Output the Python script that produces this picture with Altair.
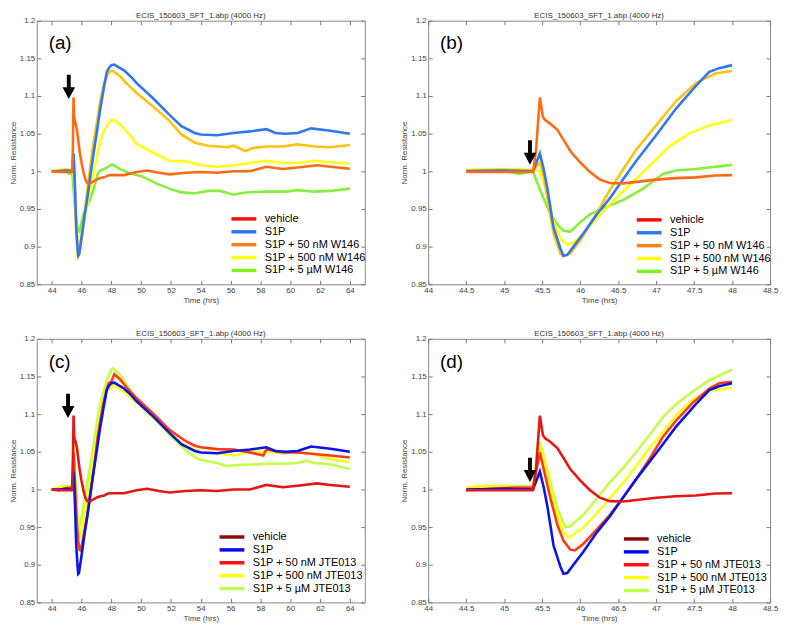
import altair as alt
import pandas as pd

FONT = "Liberation Sans"
TITLE = "ECIS_150603_SFT_1.abp (4000 Hz)"

# ---------------- data ----------------
# S1P alone (shared by all panels)
s1p_t = [44.0, 44.5, 45.0, 45.38, 45.47, 45.52, 45.57, 45.65, 45.74, 45.78, 45.83, 45.91, 46.04,
         46.22, 46.39, 46.57, 46.74, 47.0, 47.26, 47.52, 47.7, 47.83, 48.0, 48.2, 48.85, 49.3,
         49.7, 50.8, 51.9, 52.7, 53.6, 54.0, 55.1, 56.2, 57.3, 58.4, 59.0, 59.7, 60.5, 61.4,
         62.7, 64.0]
s1p_v = [1.0, 1.0, 1.001, 1.0, 1.0237, 1.003, 0.977, 0.9255, 0.8975, 0.888, 0.889, 0.8997, 0.917,
         0.943, 0.964, 0.99, 1.014, 1.048, 1.083, 1.113, 1.132, 1.137, 1.141, 1.1417, 1.134, 1.126,
         1.117, 1.097, 1.075, 1.06, 1.051, 1.049, 1.048, 1.051, 1.053, 1.056, 1.051, 1.05, 1.051,
         1.057, 1.054, 1.05]

# spike / return-to-baseline trace (shared)
spk_t = [44.0, 44.5, 45.0, 45.38, 45.42, 45.47, 45.51, 45.54, 45.61, 45.7, 45.78, 45.87, 46.0,
         46.13, 46.26, 46.39, 46.57, 46.74, 47.0, 47.26, 47.52, 47.78, 48.0, 48.85, 49.7, 50.4,
         51.2, 51.9, 53.0, 54.0, 55.1, 56.2, 57.3, 58.4, 59.5, 60.5, 61.8, 62.7, 64.0]
spk_v = [1.0, 0.999, 0.999, 0.999, 1.029, 1.098, 1.072, 1.068, 1.063, 1.055, 1.042, 1.027, 1.012,
         0.999, 0.989, 0.9845, 0.984, 0.986, 0.989, 0.991, 0.992, 0.9945, 0.995, 0.995, 0.999, 1.001,
         0.998, 0.996, 0.998, 0.999, 0.998, 1.0, 1.0, 1.006, 1.003, 1.005, 1.008, 1.006, 1.0035]

# W146 series
w50_t = [44.0, 44.5, 45.0, 45.38, 45.47, 45.52, 45.57, 45.65, 45.74, 45.78, 45.87, 46.0, 46.17,
         46.39, 46.57, 46.74, 47.0, 47.26, 47.52, 47.78, 48.0, 48.2, 48.6, 49.0, 49.7, 50.8, 51.9,
         52.7, 53.6, 54.5, 55.8, 56.2, 57.0, 57.5, 58.4, 59.5, 60.5, 61.6, 62.7, 64.0]
w50_v = [1.0, 1.001, 1.002, 1.001, 1.0116, 0.994, 0.964, 0.917, 0.891, 0.887, 0.891, 0.908, 0.936,
         0.975, 1.003, 1.029, 1.061, 1.093, 1.117, 1.13, 1.1335, 1.132, 1.126, 1.117, 1.104, 1.086,
         1.067, 1.049, 1.038, 1.034, 1.032, 1.034, 1.027, 1.031, 1.033, 1.033, 1.036, 1.033, 1.032,
         1.035]

w500_t = [44.0, 44.5, 45.0, 45.38, 45.47, 45.57, 45.65, 45.74, 45.83, 45.91, 46.04, 46.22, 46.43,
          46.65, 46.91, 47.17, 47.43, 47.7, 48.0, 48.2, 48.6, 49.3, 49.7, 50.8, 51.9, 52.96, 54.0,
          55.1, 56.2, 57.3, 58.4, 59.5, 60.5, 61.6, 62.7, 64.0]
w500_v = [1.0, 1.002, 1.003, 1.002, 1.0, 0.9686, 0.934, 0.9105, 0.903, 0.905, 0.917, 0.938, 0.96,
          0.9815, 1.007, 1.033, 1.05, 1.061, 1.068, 1.068, 1.062, 1.047, 1.036, 1.025, 1.014, 1.0135,
          1.008, 1.006, 1.008, 1.011, 1.014, 1.011, 1.011, 1.014, 1.012, 1.01]

w5_t = [44.0, 44.5, 45.0, 45.2, 45.38, 45.43, 45.52, 45.61, 45.7, 45.78, 45.87, 46.0, 46.13, 46.3,
        46.57, 46.83, 47.09, 47.26, 47.52, 48.0, 48.1, 48.6, 49.3, 50.1, 51.0, 51.9, 52.7, 53.6,
        54.5, 55.3, 56.2, 57.0, 58.4, 59.7, 60.5, 61.6, 62.7, 64.0]
w5_v = [1.0, 1.0, 1.001, 0.9966, 1.0, 0.986, 0.964, 0.943, 0.93, 0.921, 0.92, 0.932, 0.943, 0.951,
        0.962, 0.977, 0.9966, 1.001, 1.003, 1.0086, 1.009, 1.003, 0.997, 0.993, 0.984, 0.977, 0.972,
        0.971, 0.974, 0.974, 0.969, 0.972, 0.973, 0.973, 0.975, 0.973, 0.974, 0.977]

# JTE013 series
j50_t = [44.0, 44.5, 45.0, 45.38, 45.47, 45.52, 45.61, 45.7, 45.78, 45.87, 45.93, 46.04, 46.22,
         46.39, 46.57, 46.74, 46.91, 47.09, 47.26, 47.48, 47.7, 47.83, 48.0, 48.2, 48.6, 49.0, 49.7,
         50.8, 51.9, 53.0, 53.6, 54.0, 55.1, 56.2, 57.3, 58.2, 58.4, 59.5, 60.5, 61.6, 62.7, 64.0]
j50_v = [1.0, 0.999, 1.002, 1.003, 1.049, 1.027, 0.988, 0.953, 0.932, 0.92, 0.919, 0.9276, 0.947,
         0.966, 0.99, 1.014, 1.04, 1.07, 1.091, 1.115, 1.134, 1.141, 1.143, 1.153, 1.146, 1.136,
         1.121, 1.101, 1.079, 1.064, 1.058, 1.056, 1.0535, 1.053, 1.049, 1.045, 1.0535, 1.049,
         1.049, 1.047, 1.045, 1.0425]

j500_t = [44.0, 44.5, 44.7, 45.0, 45.38, 45.47, 45.52, 45.61, 45.7, 45.78, 45.85, 46.04, 46.22,
          46.39, 46.57, 46.74, 46.91, 47.09, 47.26, 47.48, 47.7, 48.0, 48.2, 48.6, 49.7, 50.8, 51.9,
          53.0, 54.0, 55.1, 56.2, 57.3, 58.4, 59.5, 60.5, 61.6, 62.7, 64.0]
j500_v = [1.0, 1.002, 1.004, 1.004, 1.003, 1.059, 1.04, 1.001, 0.966, 0.943, 0.936, 0.949, 0.9685,
          0.988, 1.0095, 1.031, 1.055, 1.076, 1.098, 1.119, 1.131, 1.135, 1.138, 1.134, 1.115,
          1.095, 1.074, 1.058, 1.05, 1.048, 1.045, 1.05, 1.05, 1.048, 1.05, 1.047, 1.04, 1.036]

j5_t = [44.0, 44.5, 44.7, 45.0, 45.38, 45.47, 45.52, 45.61, 45.7, 45.8, 45.87, 46.04, 46.22, 46.39,
        46.57, 46.74, 46.91, 47.09, 47.26, 47.48, 47.7, 48.0, 48.1, 48.6, 49.7, 50.8, 51.9, 53.0,
        53.6, 54.0, 55.1, 55.7, 56.2, 57.3, 58.4, 59.5, 60.5, 61.1, 61.6, 62.7, 64.0]
j5_v = [1.0, 1.002, 1.005, 1.005, 1.004, 1.063, 1.044, 1.0095, 0.975, 0.95, 0.951, 0.966, 0.988,
        1.0095, 1.029, 1.05, 1.072, 1.096, 1.113, 1.13, 1.145, 1.159, 1.1606, 1.152, 1.118, 1.097,
        1.072, 1.052, 1.043, 1.039, 1.035, 1.031, 1.032, 1.033, 1.034, 1.034, 1.035, 1.038, 1.035,
        1.033, 1.027]

# legends
w_labels = ["vehicle", "S1P", "S1P + 50 nM  W146", "S1P + 500 nM W146", "S1P + 5 µM W146"]
w_legend_colors = ["#FF0A0A", "#2F78F0", "#FF7F1A", "#FFFF10", "#80F020"]
j_labels = ["vehicle", "S1P", "S1P + 50 nM JTE013", "S1P + 500 nM JTE013", "S1P + 5 µM  JTE013"]
j_legend_colors = ["#8B0A0A", "#0A0AF0", "#FF1010", "#FFFF10", "#C0FF48"]

# plotted traces in drawing order: (times, values, colour)
w_traces = [(w5_t, w5_v, "#86EE3C"), (w500_t, w500_v, "#FFFF14"), (w50_t, w50_v, "#FFC20E"),
            (s1p_t, s1p_v, "#2F78F0"), (spk_t, spk_v, "#FF6A12")]
j_traces = [(j5_t, j5_v, "#C4FF44"), (j500_t, j500_v, "#FFFF14"), (j50_t, j50_v, "#FF3A14"),
            (s1p_t, s1p_v, "#0A14E6"), (spk_t, spk_v, "#E41616")]

y_ticks = [0.85, 0.9, 0.95, 1.0, 1.05, 1.1, 1.15, 1.2]
x_ticks_long = [44, 46, 48, 50, 52, 54, 56, 58, 60, 62, 64]
x_ticks_short = [44, 44.5, 45, 45.5, 46, 46.5, 47, 47.5, 48, 48.5]

# arrows: x, y of centre
arrow_x = {"a": 45.15, "b": 45.34, "c": 45.1, "d": 45.34}
arrow_y = {"a": 1.112, "b": 1.025, "c": 1.111, "d": 1.026}

ARROW = "M-0.16,-1L0.16,-1L0.16,0.02L0.52,0.02L0,1L-0.52,0.02L-0.16,0.02Z"
LEGEND_STROKE = "M-2.95,0L2.95,0"

AX = dict(labelFont=FONT, labelFontSize=8, labelColor="#444", titleFont=FONT, titleFontSize=8,
          titleFontWeight="normal", titleColor="#444", tickColor="#777", tickSize=4, domain=False,
          grid=False, offset=-4, labelPadding=2, labelFlush=False, labelOverlap=False)

H = 266


def panel(key, traces, labels, lcolors, xdom, xticks, trange, width, legx, legy):
    xs = alt.Scale(domain=xdom, nice=False, zero=False)
    ys = alt.Scale(domain=[0.85, 1.2], nice=False, zero=False)
    layers = []
    for i, (t, v, col) in enumerate(traces):
        df = pd.DataFrame({"t": t, "v": v})
        df = df[(df.t >= trange[0]) & (df.t <= trange[1])]
        if i == 0:
            xe = alt.X("t:Q", scale=xs, axis=alt.Axis(values=xticks, format="~g", title="Time (hrs)",
                                                      titlePadding=2, **AX))
            ye = alt.Y("v:Q", scale=ys, axis=alt.Axis(values=y_ticks, format="~g",
                                                      title="Norm. Resistance", titlePadding=2, **AX))
        else:
            xe = alt.X("t:Q", scale=xs, axis=None)
            ye = alt.Y("v:Q", scale=ys, axis=None)
        layers.append(alt.Chart(df).mark_line(color=col, strokeWidth=2.6).encode(x=xe, y=ye))

    arr = alt.Chart(pd.DataFrame({"ax": [arrow_x[key]], "ay": [arrow_y[key]]})).mark_point(
        shape=ARROW, filled=True, color="black", size=600, opacity=1, strokeWidth=0
    ).encode(
        x=alt.X("ax:Q", scale=xs, axis=alt.Axis(orient="top", values=xticks, labels=False, title=None,
                                                tickColor="#777", tickSize=4, domain=False, grid=False,
                                                offset=-4)),
        y=alt.Y("ay:Q", scale=ys, axis=alt.Axis(orient="right", values=y_ticks, labels=False, title=None,
                                                tickColor="#777", tickSize=4, domain=False, grid=False,
                                                offset=-4)),
    )
    lab = alt.Chart(pd.DataFrame({"lab": ["(" + key + ")"]})).mark_text(
        align="left", baseline="alphabetic", fontSize=19, font=FONT, color="black"
    ).encode(x=alt.value(12), y=alt.value(29), text="lab:N")

    ttl = alt.Chart(pd.DataFrame({"tt": [TITLE]})).mark_text(
        align="center", baseline="alphabetic", fontSize=8, font=FONT, color="#333"
    ).encode(x=alt.value(width / 2), y=alt.value(-3), text="tt:N")

    leg = alt.Chart(pd.DataFrame({"lg": labels})).mark_line(strokeWidth=3.5).encode(
        x=alt.value(1), y=alt.value(1),
        color=alt.Color("lg:N", scale=alt.Scale(domain=labels, range=lcolors), sort=labels,
                        legend=alt.Legend(orient="none", legendX=legx + 10, legendY=legy, title=None,
                                          labelFont=FONT, labelFontSize=11, labelColor="black",
                                          symbolType=LEGEND_STROKE, symbolSize=72,
                                          symbolStrokeWidth=3.5, rowPadding=-1.5, labelOffset=15,
                                          padding=0, labelLimit=300)),
    )
    return alt.layer(*layers, arr, lab, ttl, leg).resolve_scale(color="independent").resolve_axis(
        x="independent", y="independent"
    ).properties(width=width, height=H)


WA = 331
WB = 345
pa = panel("a", w_traces, w_labels, w_legend_colors, [43, 65], x_ticks_long, [44, 64], WA, WA - 138, 194)
pb = panel("b", w_traces, w_labels, w_legend_colors, [44, 48.5], x_ticks_short, [44.5, 48], WB, WB - 138, 195)
pc = panel("c", j_traces, j_labels, j_legend_colors, [43, 65], x_ticks_long, [44, 64], WA, WA - 150, 194)
pd_ = panel("d", j_traces, j_labels, j_legend_colors, [44, 48.5], x_ticks_short, [44.5, 48], WB, WB - 151, 196)

chart = alt.concat(pa, pb, pc, pd_, columns=2, spacing={"row": 55, "column": 64},
                   bounds="flush", align="each").properties(padding=0).configure_view(
    stroke="#888", strokeWidth=1
)

chart.save("out.html", embed_options={"renderer": "svg", "actions": False})
